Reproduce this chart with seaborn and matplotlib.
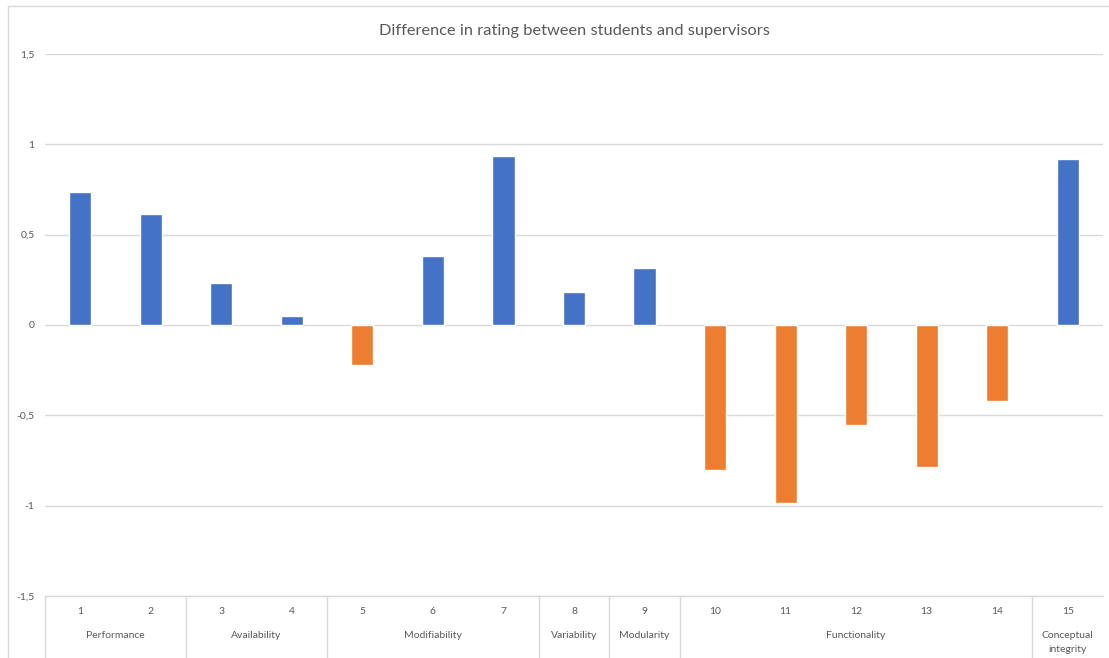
import matplotlib
matplotlib.use("Agg")
import matplotlib.pyplot as plt
import matplotlib.transforms as mtransforms
from matplotlib.lines import Line2D
import seaborn as sns
import pandas as pd

# Data
items = ["1", "2", "3", "4", "5", "6", "7", "8", "9", "10", "11", "12", "13", "14", "15"]
differences = [0.734, 0.616, 0.231, 0.048, -0.221, 0.380, 0.933, 0.181, 0.315,
               -0.802, -0.983, -0.552, -0.784, -0.419, 0.917]
groups = ["Performance", "Availability", "Modifiability", "Variability",
          "Modularity", "Functionality", "Conceptual\nintegrity"]
group_sizes = [2, 2, 3, 1, 1, 5, 1]
y_ticks = [-1.5, -1, -0.5, 0, 0.5, 1, 1.5]
y_tick_labels = ["-1,5", "-1", "-0,5", "0", "0,5", "1", "1,5"]
title = "Difference in rating between students and supervisors"

BLUE = "#4472C4"
ORANGE = "#ED7D31"
GRID = "#D9D9D9"
TEXT = "#595959"

sns.set_theme(style="white")
plt.rcParams["font.family"] = ["Lato", "DejaVu Sans"]

df = pd.DataFrame({
    "item": items,
    "diff": differences,
    "sign": ["pos" if v >= 0 else "neg" for v in differences],
})

W, H = 1109, 658
PLOT_TOP, PLOT_BOTTOM = 54, 596
plot_h = PLOT_BOTTOM - PLOT_TOP
fig = plt.figure(figsize=(W / 100, H / 100), dpi=100)
ax = fig.add_axes([45 / W, (H - PLOT_BOTTOM) / H, (1103 - 45) / W, plot_h / H])

sns.barplot(data=df, x="item", y="diff", hue="sign", order=items,
            palette={"pos": BLUE, "neg": ORANGE}, dodge=False, width=0.313,
            legend=False, ax=ax, saturation=1)

ax.set_xlim(-0.5, len(items) - 0.5)
ax.set_ylim(-1.5, 1.5)
ax.set_yticks(y_ticks)
ax.set_yticklabels(y_tick_labels, fontsize=7.5, color=TEXT)
ax.tick_params(axis="y", length=0, pad=7.5)
ax.set_xticks([])
ax.set_xlabel("")
ax.set_ylabel("")
for s in ax.spines.values():
    s.set_visible(False)
for t in y_ticks:
    ax.axhline(t, color=GRID, lw=1, zorder=0)

ax.set_title(title, fontsize=11.8, color=TEXT, pad=14)

# Two-level category axis below the plot
trans = mtransforms.blended_transform_factory(ax.transData, ax.transAxes)
box_h = (H - PLOT_BOTTOM) / plot_h
for i, lab in enumerate(items):
    ax.text(i, -15.5 / plot_h, lab, transform=trans, ha="center", va="center",
            fontsize=7.5, color=TEXT, clip_on=False)

start = 0
bounds = [start]
for g, n in zip(groups, group_sizes):
    center = start + (n - 1) / 2
    ax.text(center, -34.5 / plot_h, g, transform=trans, ha="center", va="top",
            fontsize=7.5, color=TEXT, clip_on=False, linespacing=1.75)
    start += n
    bounds.append(start)

for b in bounds[:-1]:
    ax.add_line(Line2D([b - 0.5, b - 0.5], [0, -box_h], transform=trans,
                       color=GRID, lw=1, clip_on=False))
ax.add_line(Line2D([-0.5, len(items) - 0.5], [0, 0], transform=trans,
                   color=GRID, lw=1, clip_on=False))

# Chart area border
fig.add_artist(Line2D([8 / W, 8 / W], [0, (H - 6) / H], color=GRID, lw=1))
fig.add_artist(Line2D([8 / W, 1], [(H - 6) / H, (H - 6) / H], color=GRID, lw=1))

fig.savefig("out.png", dpi=100, facecolor="white")
